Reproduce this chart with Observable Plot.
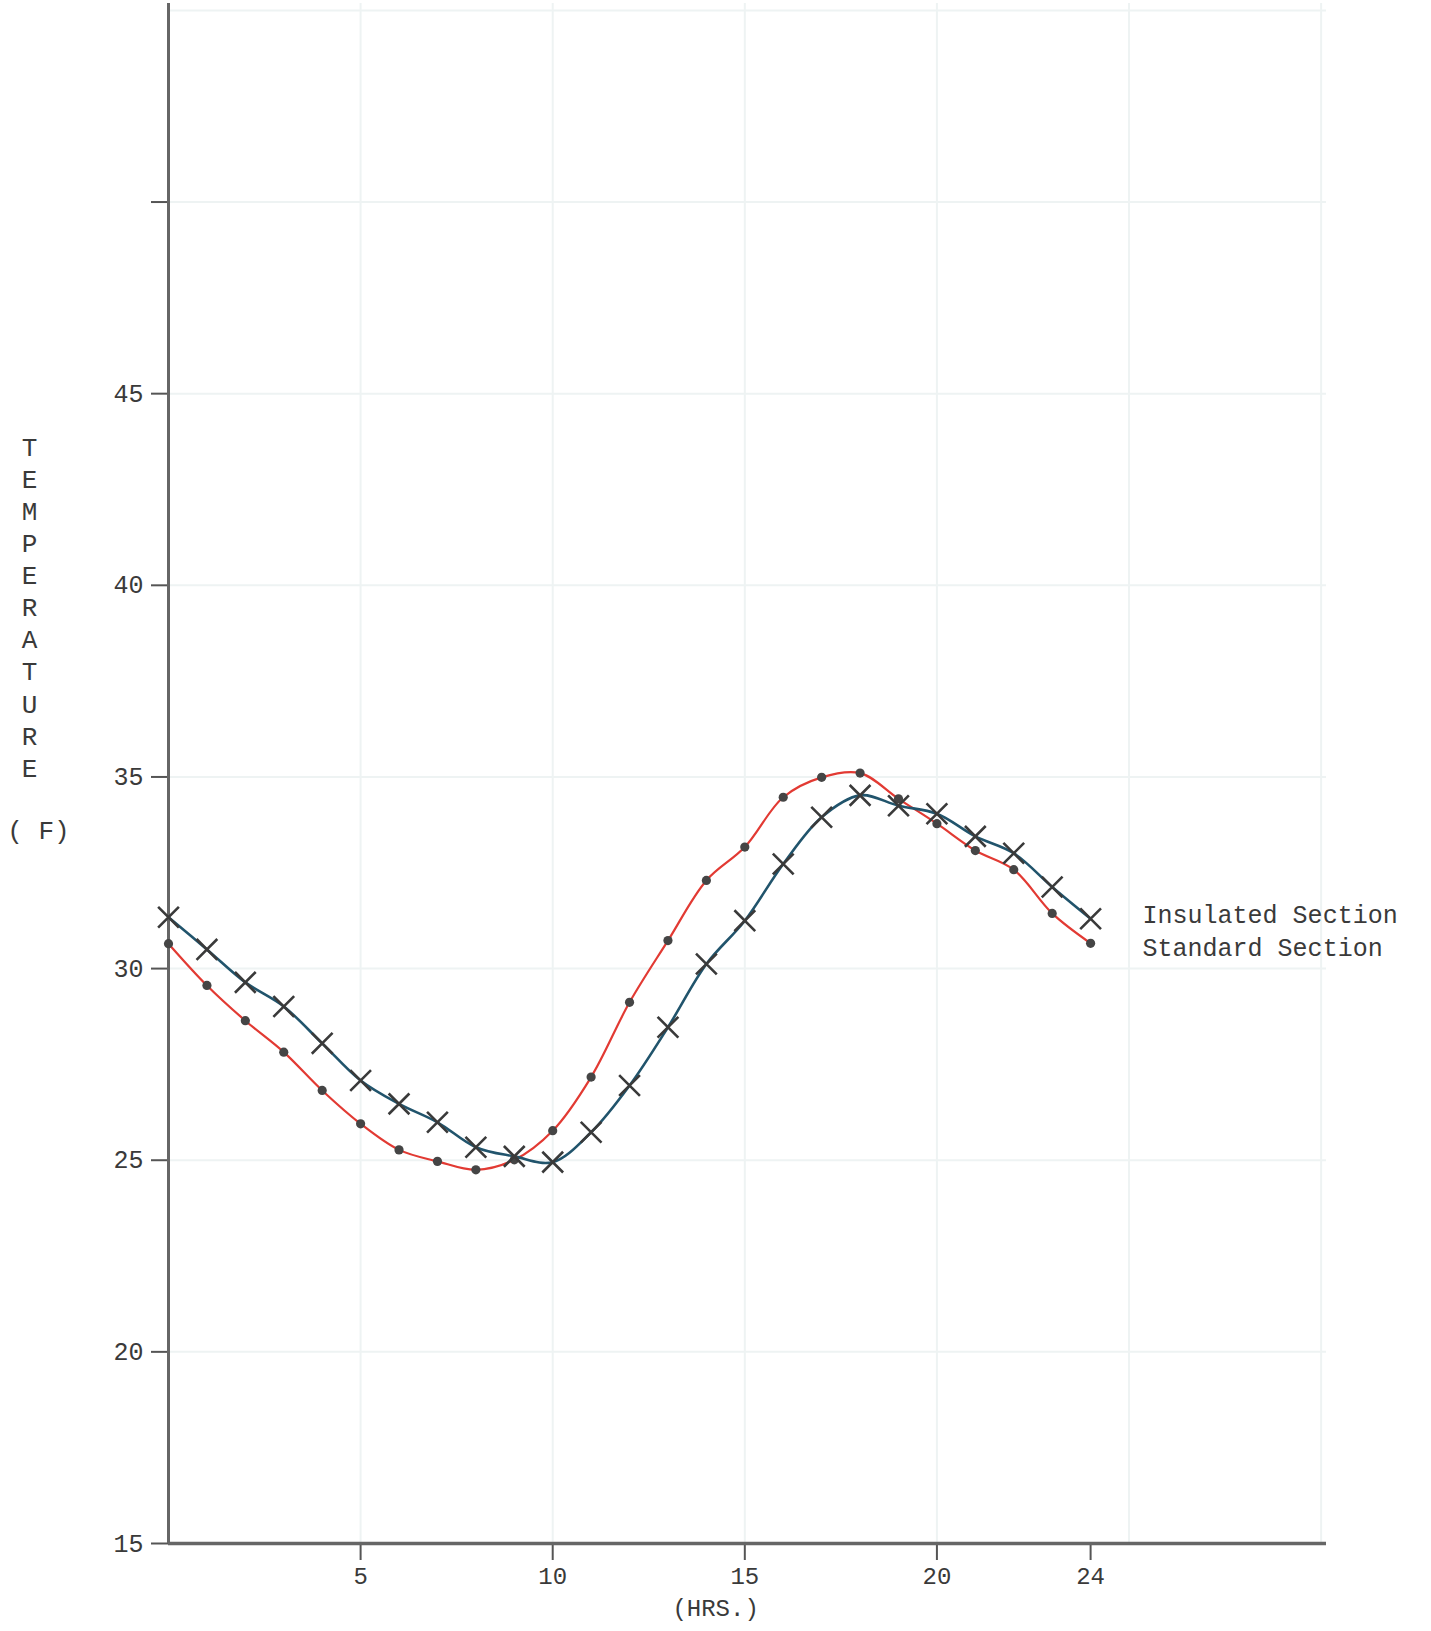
<!DOCTYPE html>
<html><head><meta charset="utf-8">
<script src="https://cdn.jsdelivr.net/npm/d3@7"></script>
<script src="https://cdn.jsdelivr.net/npm/@observablehq/plot@0.6"></script>
<style>
html,body{margin:0;padding:0;background:#fff;}
#chart{width:1431px;height:1631px;}
</style></head><body><div id="chart"></div>
<script>
// ---- data ----
const hours = [0,1,2,3,4,5,6,7,8,9,10,11,12,13,14,15,16,17,18,19,20,21,22,23,24];
const insulated = [31.34,30.50,29.64,29.01,28.05,27.08,26.47,25.99,25.34,25.10,24.95,25.73,26.95,28.47,30.12,31.25,32.73,33.95,34.52,34.25,34.04,33.45,33.01,32.13,31.30];
const standard  = [30.65,29.56,28.64,27.82,26.82,25.95,25.27,24.97,24.75,25.01,25.77,27.17,29.12,30.73,32.30,33.17,34.47,34.99,35.10,34.43,33.78,33.08,32.58,31.44,30.66];
const seriesNames = ["Insulated Section", "Standard Section"];
const yTicks = [15,20,25,30,35,40,45,50];
const yTickLabels = ["15","20","25","30","35","40","45",""];
const xTicks = [5,10,15,20,24];
const gridX = [5,10,15,20,25,30];
const gridY = [20,25,30,35,40,45,50,55];
const yLabel = "TEMPERATURE";
const yUnit = "( F)";
const xLabel = "(HRS.)";

const ins = hours.map((h, i) => ({h, t: insulated[i]}));
const std = hours.map((h, i) => ({h, t: standard[i]}));

const font = "'Liberation Mono', 'DejaVu Sans Mono', monospace";
const ink = "#3a3a3a";

const chart = Plot.plot({
  width: 1431, height: 1631,
  marginLeft: 168, marginRight: 105, marginTop: 3, marginBottom: 88,
  x: {domain: [0, 30.14]},
  y: {domain: [15, 55.18]},
  style: {fontFamily: font, background: "#fff", color: ink, overflow: "visible"},
  marks: [
    // faint graph-paper grid
    Plot.ruleX(gridX, {stroke: "#eef3f3", strokeWidth: 2}),
    Plot.ruleY(gridY, {stroke: "#eef3f3", strokeWidth: 2}),
    // axes
    Plot.axisY(yTicks, {tickSize: 17, tickPadding: 8, fontSize: 25, stroke: "#555", strokeWidth: 2,
      tickFormat: (d) => yTickLabels[yTicks.indexOf(d)], label: null, fill: ink}),
    Plot.axisX(xTicks, {tickSize: 17, tickPadding: 6, fontSize: 24, stroke: "#555", strokeWidth: 2,
      tickFormat: (d) => String(d), label: null, fill: ink}),
    Plot.ruleX([0], {stroke: "#666", strokeWidth: 3}),
    Plot.ruleY([15], {stroke: "#666", strokeWidth: 3.5}),
    // series lines
    Plot.line(std, {x: "h", y: "t", stroke: "#e23a33", strokeWidth: 2.2, curve: "catmull-rom"}),
    Plot.line(ins, {x: "h", y: "t", stroke: "#21546c", strokeWidth: 2.6, curve: "catmull-rom"}),
    // markers
    Plot.dot(std, {x: "h", y: "t", r: 4.6, fill: "#454545", stroke: "none"}),
    Plot.dot(ins, {x: "h", y: "t", symbol: "times", r: 9.5, stroke: ink, strokeWidth: 2.6}),
    // end labels
    Plot.text([ins[ins.length - 1]], {x: "h", y: "t", text: () => seriesNames[0], textAnchor: "start", dx: 52, dy: -4, fontSize: 25, fill: ink}),
    Plot.text([std[std.length - 1]], {x: "h", y: "t", text: () => seriesNames[1], textAnchor: "start", dx: 52, dy: 5, fontSize: 25, fill: ink}),
    // axis titles
    Plot.text([{t: 39.46}], {y: "t", frameAnchor: "left", dx: -139, text: () => yLabel.split("").join("\n"),
      lineHeight: 1.235, fontSize: 26, fill: ink, textAnchor: "middle"}),
    Plot.text([{t: 33.6}], {y: "t", frameAnchor: "left", dx: -130, text: () => yUnit, fontSize: 26, fill: ink, textAnchor: "middle"}),
    Plot.text([{h: 14.24}], {x: "h", frameAnchor: "bottom", dy: 72, text: () => xLabel, fontSize: 24, fill: ink})
  ]
});
document.getElementById("chart").appendChild(chart);
</script></body></html>
